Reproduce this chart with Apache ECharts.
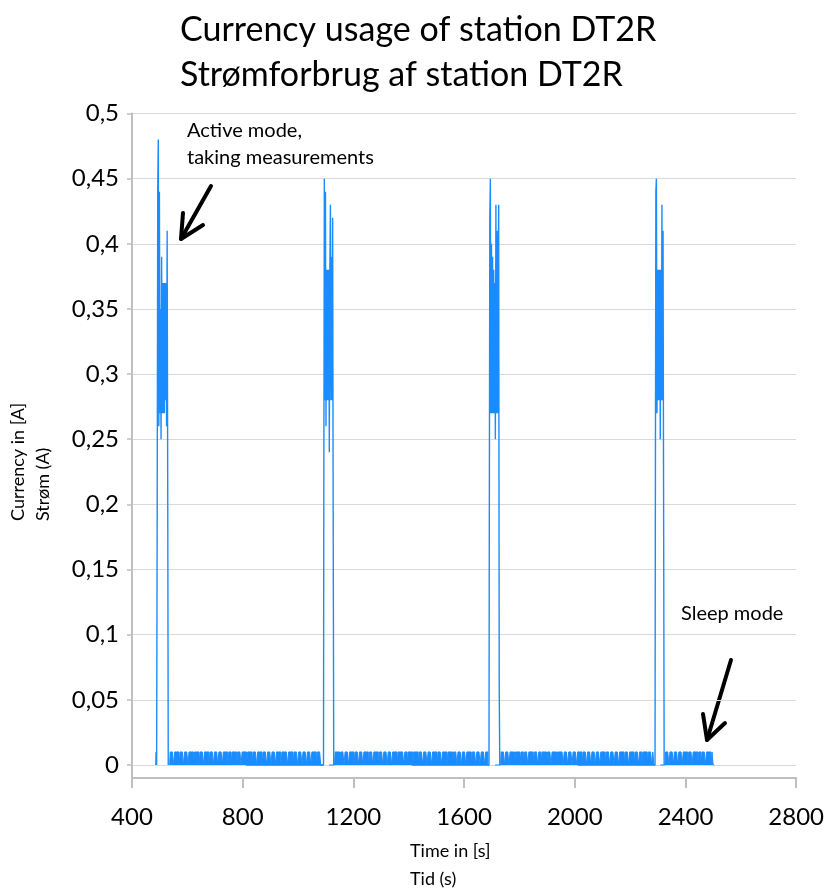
<!DOCTYPE html>
<html>
<head>
<meta charset="utf-8">
<script src="https://cdn.jsdelivr.net/npm/echarts@6.0.0/dist/echarts.min.js"></script>
<style>
  body { margin: 0; background: #fff; }
  #chart { width: 827px; height: 891px; }
</style>
</head>
<body>
<div id="chart"></div>
<script>
// tick labels
var xTicks = [400, 800, 1200, 1600, 2000, 2400, 2800];
var yTicks = [0, 0.05, 0.1, 0.15, 0.2, 0.25, 0.3, 0.35, 0.4, 0.45, 0.5];

// active bursts, [time s, current A]
var burst1 = [[486,0],[488,0.01],[490,0],[492,0.19],[494,0.44],[496,0.48],[498,0.26],[500,0.44],[502,0.27],[504,0.35],
  [506,0.25],[508,0.39],[510,0.27],[512,0.37],[514,0.27],[516,0.37],[518,0.27],[520,0.37],[522,0.28],[524,0.37],
  [526,0.26],[528,0.41],[530,0.22],[532,0]];
var burst2 = [[1092,0],[1094,0.19],[1096,0.45],[1098,0.28],[1100,0.44],[1102,0.26],[1104,0.38],[1106,0.28],[1108,0.38],
  [1110,0.28],[1112,0.38],[1114,0.24],[1116,0.38],[1118,0.43],[1120,0.28],[1122,0.39],[1124,0.28],[1126,0.42],[1128,0.19],[1130,0]];
var burst3 = [[1690,0],[1692,0.16],[1694,0.42],[1696,0.45],[1698,0.27],[1700,0.40],[1702,0.27],[1704,0.39],[1706,0.27],
  [1708,0.38],[1710,0.27],[1712,0.37],[1714,0.25],[1716,0.43],[1718,0.27],[1720,0.41],[1722,0.27],[1724,0.37],[1726,0.43],
  [1728,0.06],[1730,0]];
var burst4 = [[2290,0],[2292,0.17],[2294,0.44],[2296,0.45],[2298,0.27],[2300,0.38],[2302,0.28],[2304,0.38],[2306,0.28],
  [2308,0.38],[2310,0.25],[2312,0.38],[2314,0.28],[2316,0.43],[2318,0.28],[2320,0.41],[2322,0.2],[2324,0]];

// sleep mode: one char per sample every 4 s, 1 = 0.01 A, 0 = 0 A
var sleepStep = 4;
var sleepHigh = 0.01;
var sleep1Start = 536;
var sleep1 = "0111011110" + "1110111011" + "1101111011" + "1011110111" + "0111011101" + "1110110111" + "1011101111" +
  "0111101110" + "1111011101" + "1101110111" + "1011111011" + "1101110111" + "0111011101" + "111011100";
var sleep2Start = 1132;
var sleep2 = "0111101110" + "1110111101" + "1101110111" + "1011101111" + "0111011101" + "1101111011" + "1110110111" +
  "1011110111" + "0111011101" + "1110111011" + "1101111011" + "1011101110" + "1111011101" + "1101110110";
var sleep3Start = 1732;
var sleep3 = "0111011101" + "1110111101" + "1011101111" + "0111011011" + "1101110111" + "1011111011" + "1011101110" +
  "1111011101" + "1101110111" + "0111101110" + "1110111011" + "1101110111" + "1011101101" + "1110111010";
var sleep4Start = 2326;
var sleep4 = "0111011101" + "1101110111" + "1011101111" + "0110111011" + "11010";

function sleepPoints(start, pattern) {
  var pts = [];
  for (var i = 0; i < pattern.length; i++) {
    pts.push([start + i * sleepStep, pattern.charAt(i) === '1' ? sleepHigh : 0]);
  }
  pts.push([start + pattern.length * sleepStep, null]); // break before next burst
  return pts;
}

var burstData = [].concat(burst1, [[534, null]], burst2, [[1131, null]], burst3, [[1731, null]], burst4);
var sleepData = [].concat(
  sleepPoints(sleep1Start, sleep1),
  sleepPoints(sleep2Start, sleep2),
  sleepPoints(sleep3Start, sleep3),
  sleepPoints(sleep4Start, sleep4)
);

var font = 'Lato, "Open Sans", sans-serif';
var axisGrey = '#bfbfbf';
var blue = '#1a8cff';

var chart = echarts.init(document.getElementById('chart'), null, { renderer: 'canvas' });

var option = {
  animation: false,
  backgroundColor: '#fff',
  title: {
    text: 'Currency usage of station DT2R\nStrømforbrug af station DT2R',
    left: 175,
    top: 3,
    textStyle: { fontFamily: font, fontSize: 34, fontWeight: 'normal', color: '#000', lineHeight: 45 }
  },
  grid: { left: 132, right: 29, top: 113.5, bottom: 113, containLabel: false },
  xAxis: {
    type: 'value',
    min: xTicks[0],
    max: xTicks[xTicks.length - 1],
    interval: 400,
    axisLine: { onZero: false, lineStyle: { color: axisGrey, width: 2 } },
    axisTick: { show: true, length: 10, lineStyle: { color: axisGrey, width: 2 } },
    axisLabel: {
      margin: 27, fontFamily: font, fontSize: 24, color: '#000',
      formatter: function (v) { return String(v); }
    },
    splitLine: { show: false }
  },
  yAxis: {
    type: 'value',
    min: -0.01,
    max: 0.5,
    axisLine: { show: true, onZero: false, lineStyle: { color: axisGrey, width: 2 } },
    axisTick: { show: true, length: 5, customValues: yTicks, lineStyle: { color: axisGrey, width: 1.5 } },
    axisLabel: {
      margin: 13, fontFamily: font, fontSize: 24, color: '#000',
      customValues: yTicks,
      formatter: function (v) { return String(v).replace('.', ','); }
    },
    splitLine: { show: true, lineStyle: { color: '#d9d9d9', width: 1 } }
  },
  series: [{
    name: 'active',
    type: 'line',
    data: burstData,
    step: 'middle',
    showSymbol: false,
    symbol: 'none',
    sampling: null,
    connectNulls: false,
    lineStyle: { color: blue, width: 1.4 },
    itemStyle: { color: blue }
  }, {
    name: 'sleep',
    type: 'line',
    data: sleepData,
    step: 'middle',
    showSymbol: false,
    symbol: 'none',
    sampling: null,
    connectNulls: false,
    lineStyle: { color: blue, width: 1 },
    itemStyle: { color: blue },
    areaStyle: { color: blue, opacity: 1, origin: 'auto' }
  }],
  graphic: [
    { type: 'text', left: 410, top: 837,
      style: { text: 'Time in [s]\nTid (s)', font: '18px ' + font, fill: '#000', lineHeight: 28 } },
    { type: 'text', x: 6, y: 521, rotation: Math.PI / 2,
      style: { text: 'Currency in [A]\nStrøm (A)', font: '18px ' + font, fill: '#000', lineHeight: 25,
        textAlign: 'left', textVerticalAlign: 'top' } },
    { type: 'text', left: 187, top: 117,
      style: { text: 'Active mode,\ntaking measurements', font: '20px ' + font, fill: '#000', lineHeight: 27 } },
    { type: 'text', left: 681, top: 604,
      style: { text: 'Sleep mode', font: '20px ' + font, fill: '#000' } },
    { type: 'polyline', shape: { points: [[211, 186], [181, 239]] },
      style: { stroke: '#000', lineWidth: 4, lineCap: 'round', fill: null } },
    { type: 'polyline', shape: { points: [[183, 213], [181, 239], [203, 225]] },
      style: { stroke: '#000', lineWidth: 4, lineCap: 'round', lineJoin: 'round', fill: null } },
    { type: 'polyline', shape: { points: [[731, 660], [707, 740]] },
      style: { stroke: '#000', lineWidth: 4, lineCap: 'round', fill: null } },
    { type: 'polyline', shape: { points: [[703, 714], [707, 740], [725, 723]] },
      style: { stroke: '#000', lineWidth: 4, lineCap: 'round', lineJoin: 'round', fill: null } }
  ]
};

chart.setOption(option);
</script>
</body>
</html>
